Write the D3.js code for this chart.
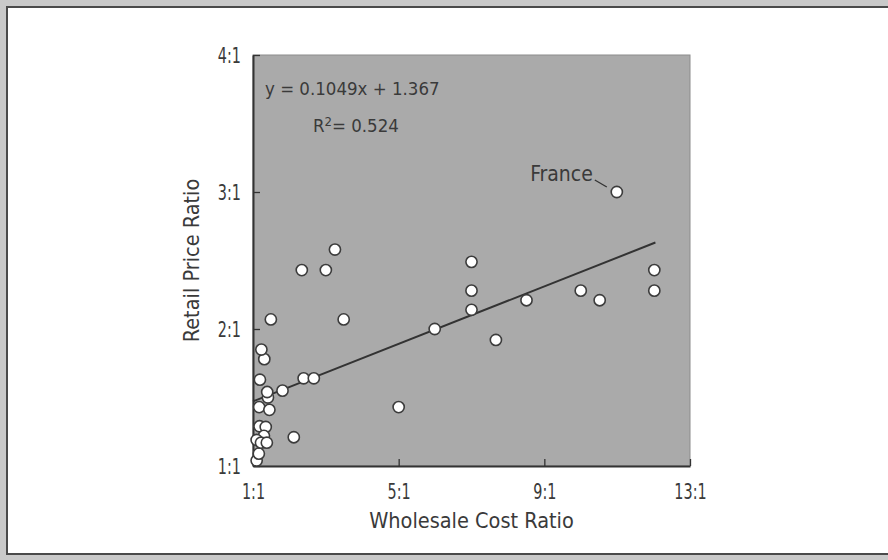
<!DOCTYPE html>
<html>
<head>
<meta charset="utf-8">
<script src="https://cdn.jsdelivr.net/npm/d3@7"></script>
<style>
  html, body { margin: 0; padding: 0; background: #c9c9c9; }
  svg { display: block; }
  text { font-family: "DejaVu Sans Condensed", "DejaVu Sans", sans-serif; font-stretch: condensed; fill: #3a3a3a; }
</style>
</head>
<body>
<svg id="chart" width="888" height="560"></svg>
<script>
// Wholesale cost ratio vs. retail price ratio, one point per country
const wholesale = [1.10, 1.16, 1.18, 1.35, 1.30, 1.10, 1.22, 1.38, 2.12, 1.17, 1.45, 1.41, 1.39, 1.81,
                   1.19, 2.39, 2.67, 1.31, 1.23, 1.49, 3.49, 5.00, 2.34, 3.00, 3.25, 5.99, 7.00, 7.00,
                   7.00, 7.67, 8.51, 10.00, 10.52, 12.02, 12.02, 10.99];
const retail    = [1.04, 1.09, 1.29, 1.285, 1.22, 1.19, 1.17, 1.17, 1.21, 1.43, 1.41, 1.50, 1.54, 1.55,
                   1.63, 1.64, 1.64, 1.78, 1.85, 2.07, 2.07, 1.43, 2.43, 2.43, 2.58, 2.00, 2.49, 2.28,
                   2.14, 1.92, 2.21, 2.28, 2.21, 2.43, 2.28, 3.00];
const pointLabels = ["", "", "", "", "", "", "", "", "", "", "", "", "", "", "", "", "", "", "", "",
                     "", "", "", "", "", "", "", "", "", "", "", "", "", "", "", "France"];

const xTicks = [1, 5, 9, 13];
const yTicks = [1, 2, 3, 4];
const ratioLabel = d => d + ":1";

// Least-squares fit shown on the chart
const slope = 0.1049, intercept = 1.367, rSquared = 0.524;
const fitRange = [1, 12.05];

const svg = d3.select("#chart");
const W = 888;

// Page frame
svg.append("rect").attr("x", 7).attr("y", 7).attr("width", W + 10).attr("height", 547)
  .attr("fill", "#ffffff").attr("stroke", "#4a4a4a").attr("stroke-width", 2);

const plot = { left: 253, right: 690, top: 55, bottom: 466 };
const x = d3.scaleLinear().domain([1, 13]).range([plot.left, plot.right]);
const y = d3.scaleLinear().domain([1, 4]).range([plot.bottom, plot.top]);

// Plot background
svg.append("rect")
  .attr("x", plot.left).attr("y", plot.top)
  .attr("width", plot.right - plot.left).attr("height", plot.bottom - plot.top)
  .attr("fill", "#aaaaaa").attr("stroke", "#8c8c8c").attr("stroke-width", 1);

// Axes with inward ticks
const xAxis = d3.axisBottom(x).tickValues(xTicks).tickFormat(ratioLabel)
  .tickSizeInner(-7).tickSizeOuter(0).tickPadding(18);
const yAxis = d3.axisLeft(y).tickValues(yTicks).tickFormat(ratioLabel)
  .tickSizeInner(-7).tickSizeOuter(0).tickPadding(12);

const gx = svg.append("g").attr("transform", `translate(0,${plot.bottom})`).call(xAxis);
const gy = svg.append("g").attr("transform", `translate(${plot.left},0)`).call(yAxis);
[gx, gy].forEach(g => {
  g.select(".domain").attr("stroke", "#333").attr("stroke-width", 2);
  g.selectAll(".tick line").attr("stroke", "#333").attr("stroke-width", 1.3);
  g.selectAll(".tick text").attr("font-size", 20.5).attr("fill", "#3a3a3a")
    .style("font-family", '"DejaVu Sans Condensed", "DejaVu Sans", sans-serif');
});
// narrow figures for the tick labels
const squeeze = 0.78;
gx.selectAll(".tick text").attr("transform", `scale(${squeeze},1)`);
gy.selectAll(".tick text").attr("dy", "0.36em").attr("x", -12 / squeeze).attr("transform", `scale(${squeeze},1)`);

// Axis titles
svg.append("text")
  .attr("x", (plot.left + plot.right) / 2).attr("y", 528)
  .attr("text-anchor", "middle").attr("font-size", 21.5)
  .text("Wholesale Cost Ratio");

svg.append("text")
  .attr("transform", `translate(199,${(plot.top + plot.bottom) / 2}) rotate(-90)`)
  .attr("text-anchor", "middle").attr("font-size", 21.5)
  .text("Retail Price Ratio");

// Trend line
svg.append("line")
  .attr("x1", x(fitRange[0])).attr("y1", y(slope * fitRange[0] + intercept))
  .attr("x2", x(fitRange[1])).attr("y2", y(slope * fitRange[1] + intercept))
  .attr("stroke", "#333").attr("stroke-width", 2);

// Data points
const points = wholesale.map((w, i) => ({ w, r: retail[i], label: pointLabels[i] }));
svg.append("g").selectAll("circle").data(points).join("circle")
  .attr("cx", d => x(d.w)).attr("cy", d => y(d.r)).attr("r", 5.6)
  .attr("fill", "#ffffff").attr("stroke", "#3c3c3c").attr("stroke-width", 1.6);

// Named point annotation with leader line
points.filter(d => d.label).forEach(d => {
  const px = x(d.w), py = y(d.r);
  svg.append("line")
    .attr("x1", px - 22).attr("y1", py - 12).attr("x2", px - 10).attr("y2", py - 5)
    .attr("stroke", "#333").attr("stroke-width", 1.3);
  svg.append("text")
    .attr("x", px - 24).attr("y", py - 11)
    .attr("text-anchor", "end").attr("font-size", 21)
    .text(d.label);
});

// Regression equation
svg.append("text")
  .attr("x", 265).attr("y", 95).attr("font-size", 18.5)
  .text(`y = ${slope}x + ${intercept}`);
const r2 = svg.append("text")
  .attr("x", 313).attr("y", 132).attr("font-size", 18.5);
r2.append("tspan").text("R");
r2.append("tspan").attr("font-size", 13).attr("dy", -6).text("2");
r2.append("tspan").attr("dy", 6).text(`= ${rSquared}`);
</script>
</body>
</html>
